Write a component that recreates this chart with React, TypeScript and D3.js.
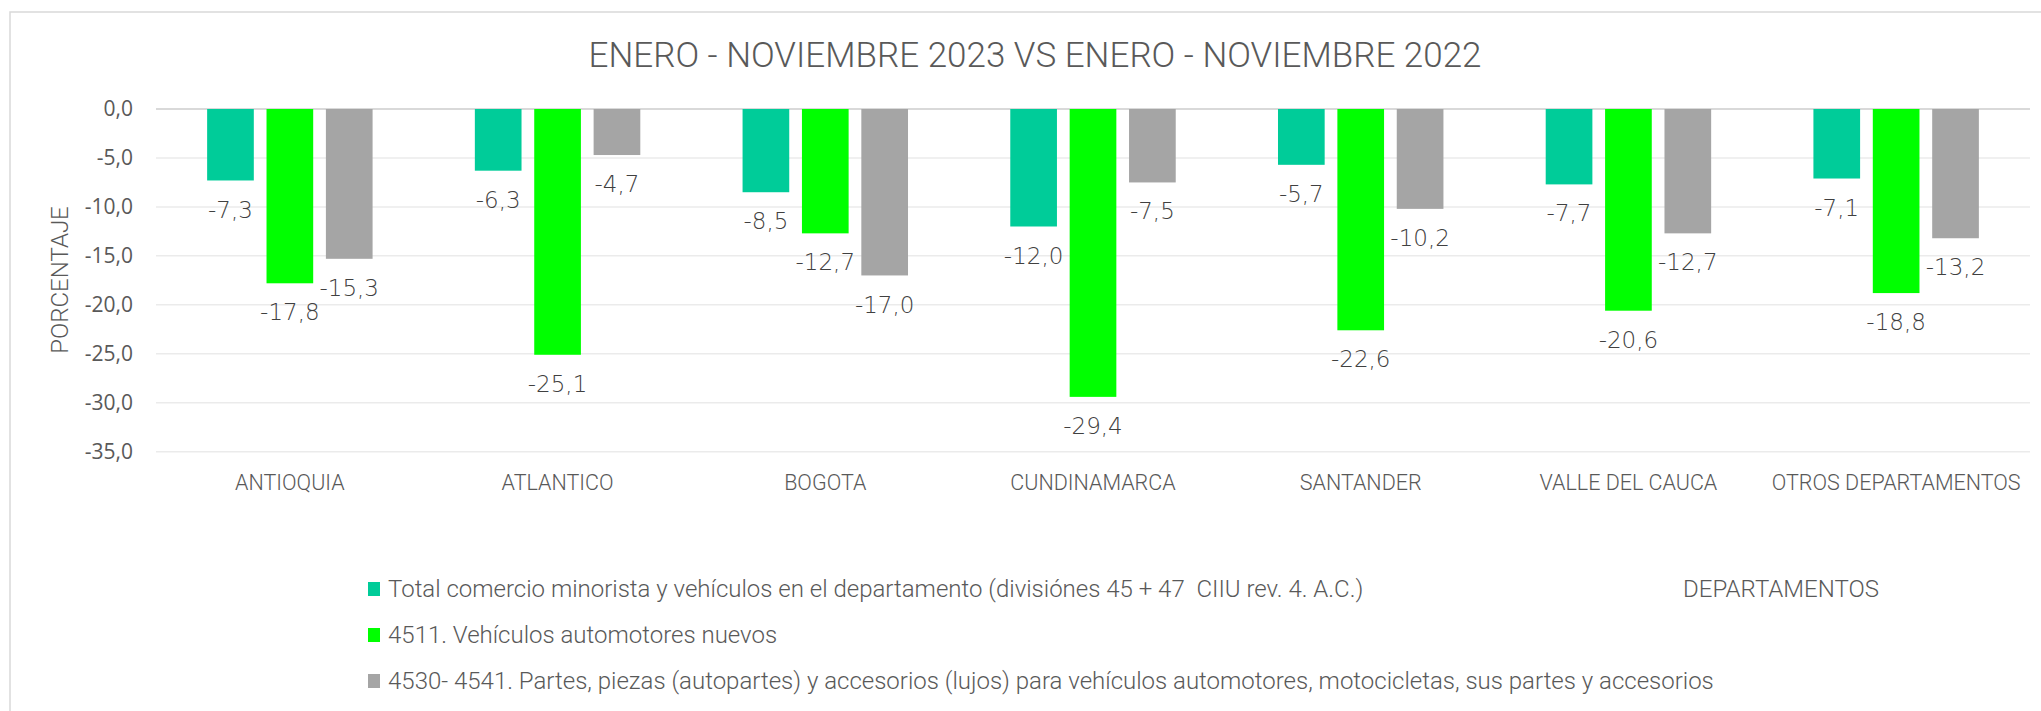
import React, { useEffect } from 'react';
import * as d3 from 'd3';

const categories = [
  'ANTIOQUIA',
  'ATLANTICO',
  'BOGOTA',
  'CUNDINAMARCA',
  'SANTANDER',
  'VALLE DEL CAUCA',
  'OTROS DEPARTAMENTOS',
];

const seriesNames = [
  'Total comercio minorista y vehículos en el departamento (divisiónes 45 + 47  CIIU rev. 4. A.C.)',
  '4511. Vehículos automotores nuevos',
  '4530- 4541. Partes, piezas (autopartes) y accesorios (lujos) para vehículos automotores, motocicletas, sus partes y accesorios',
];

const totalComercio = [-7.3, -6.3, -8.5, -12.0, -5.7, -7.7, -7.1];
const vehiculosNuevos = [-17.8, -25.1, -12.7, -29.4, -22.6, -20.6, -18.8];
const autopartes = [-15.3, -4.7, -17.0, -7.5, -10.2, -12.7, -13.2];

const seriesColors = ['#00CC99', '#00FF00', '#A5A5A5'];
const yTicks = [0, -5, -10, -15, -20, -25, -30, -35];

const title = 'ENERO - NOVIEMBRE 2023 VS ENERO - NOVIEMBRE 2022';

const W = 2041;
const H = 711;

const esLocale = d3.formatLocale({
  decimal: ',',
  thousands: '.',
  grouping: [3],
  currency: ['$', ''],
  minus: '-',
});
const fmt = esLocale.format('.1f');

export default function App() {
  useEffect(() => {
    document.body.style.margin = '0';
    document.body.style.overflow = 'hidden';
  }, []);

  const values = [totalComercio, vehiculosNuevos, autopartes];

  const x0 = d3
    .scaleBand<string>()
    .domain(categories)
    .range([156, 2030])
    .paddingInner(0.382)
    .paddingOuter(0.191);

  const x1 = d3
    .scaleBand<number>()
    .domain([0, 1, 2])
    .range([0, x0.bandwidth()])
    .paddingInner(0.214);

  const y = d3.scaleLinear().domain([0, -35]).range([109, 451.7]);

  const lightFont = 'Roboto, "Noto Sans", sans-serif';

  return (
    <svg
      width={W}
      height={H}
      style={{ position: 'absolute', left: 0, top: 0, background: '#fff' }}
    >
      <rect x={0} y={0} width={W} height={H} fill="#fff" />
      <rect x={10} y={12} width={W + 20} height={H + 20} fill="none" stroke="#d9d9d9" strokeWidth={1.5} />

      <text
        x={1035}
        y={67}
        textAnchor="middle"
        fontFamily={lightFont}
        fontWeight={300}
        fontSize={35}
        fill="#595959"
      >
        {title}
      </text>

      {/* grid */}
      {yTicks.map((t) => (
        <g key={t}>
          <line
            x1={x0.range()[0]}
            x2={x0.range()[1]}
            y1={y(t)}
            y2={y(t)}
            stroke={t === 0 ? '#d9d9d9' : '#ebebeb'}
            strokeWidth={t === 0 ? 2 : 1.5}
          />
          <text
            x={133}
            y={y(t)}
            dy="0.35em"
            textAnchor="end"
            fontFamily='"Open Sans", sans-serif'
            fontSize={21}
            fill="#595959"
          >
            {fmt(t)}
          </text>
        </g>
      ))}

      {/* bars */}
      {categories.map((c, i) => (
        <g key={c} transform={`translate(${x0(c)},0)`}>
          {values.map((s, k) => (
            <rect
              key={k}
              x={x1(k)}
              y={y(0)}
              width={x1.bandwidth()}
              height={y(s[i]) - y(0)}
              fill={seriesColors[k]}
            />
          ))}
          {values.map((s, k) => (
            <text
              key={'l' + k}
              x={(x1(k) as number) + x1.bandwidth() / 2}
              y={y(s[i]) + 29}
              dy="0.35em"
              textAnchor="middle"
              fontFamily='"DejaVu Sans", sans-serif'
              fontWeight={200}
              fontSize={23}
              fill="#404040"
            >
              {fmt(s[i])}
            </text>
          ))}
          <text
            x={x0.bandwidth() / 2}
            y={490}
            textAnchor="middle"
            fontFamily={lightFont}
            fontWeight={300}
            fontSize={21.5}
            fill="#595959"
          >
            {c}
          </text>
        </g>
      ))}

      {/* axis titles */}
      <text
        transform="translate(68,280) rotate(-90)"
        textAnchor="middle"
        fontFamily={lightFont}
        fontWeight={300}
        fontSize={24}
        fill="#595959"
      >
        PORCENTAJE
      </text>
      <text
        x={1781}
        y={597}
        textAnchor="middle"
        fontFamily={lightFont}
        fontWeight={300}
        fontSize={24}
        fill="#595959"
      >
        DEPARTAMENTOS
      </text>

      {/* legend */}
      {seriesNames.map((name, k) => (
        <g key={name} transform={`translate(368,${597 + k * 46})`}>
          <rect x={0} y={-15} width={12} height={14} fill={seriesColors[k]} />
          <text
            x={20}
            y={0}
            fontFamily={lightFont}
            fontWeight={300}
            fontSize={24}
            fill="#595959"
            style={{ whiteSpace: 'pre' }}
          >
            {name}
          </text>
        </g>
      ))}
    </svg>
  );
}
